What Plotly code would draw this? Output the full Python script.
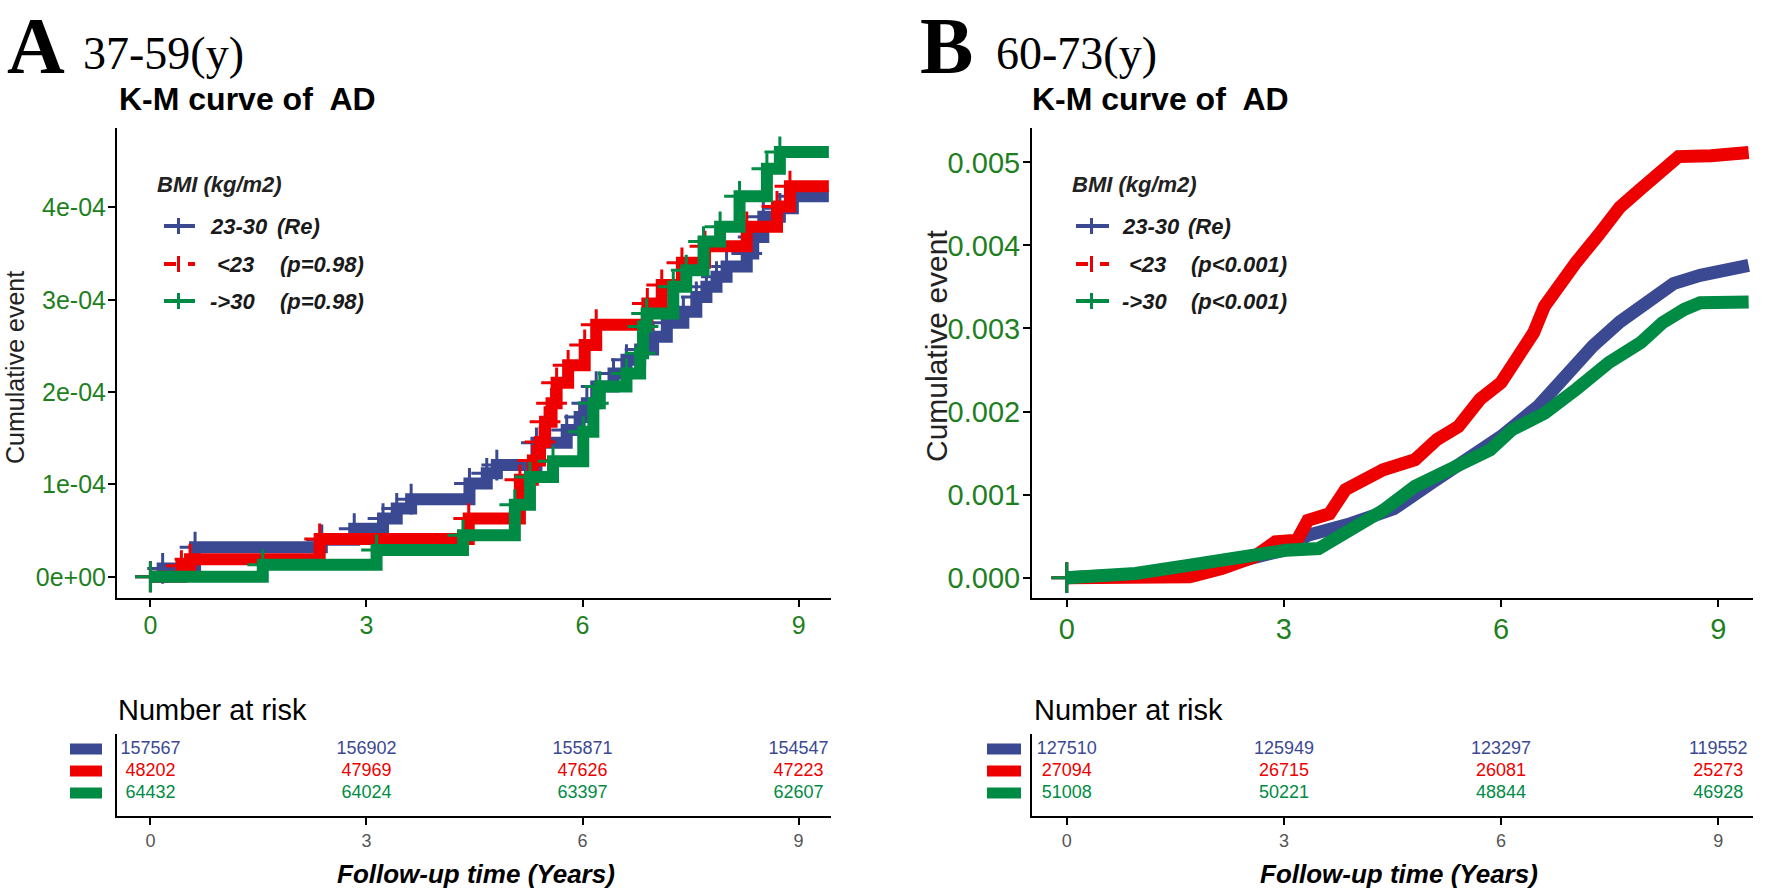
import plotly.graph_objects as go

W, H = 1770, 893

# ---------------- data ----------------
# Panel A (37-59 y): K-M cumulative event (values in units of 1e-4)
a_blue_t = [0, 0.17, 0.62, 2.38, 2.83, 3.23, 3.42, 3.62, 4.43, 4.67, 4.81, 5.36, 5.78, 5.96, 6.06,
            6.19, 6.43, 6.61, 6.80, 6.98, 7.17, 7.40, 7.58, 7.72, 7.86, 8.00, 8.28, 8.37, 8.51, 8.74, 8.92]
a_blue_v = [0, 0.09, 0.32, 0.40, 0.52, 0.63, 0.74, 0.84, 1.01, 1.12, 1.21, 1.45, 1.59, 1.73, 1.88,
            2.06, 2.20, 2.35, 2.46, 2.60, 2.75, 2.87, 3.03, 3.14, 3.25, 3.36, 3.50, 3.68, 3.90, 3.99, 4.12]
a_red_t = [0, 0.43, 0.55, 2.35, 4.42, 5.13, 5.31, 5.41, 5.48, 5.57, 5.64, 5.80, 6.03, 6.19, 6.90,
           7.10, 7.38, 7.70, 8.28, 8.70, 8.88]
a_red_v = [0, 0.12, 0.19, 0.41, 0.63, 1.05, 1.26, 1.46, 1.68, 1.88, 2.10, 2.29, 2.51, 2.73, 2.96,
           3.16, 3.40, 3.58, 3.79, 4.01, 4.23]
a_green_t = [0, 1.56, 3.14, 4.34, 5.06, 5.27, 5.59, 6.01, 6.15, 6.24, 6.61, 6.80, 6.84, 6.89, 7.26,
             7.44, 7.68, 7.91, 8.18, 8.56, 8.74]
a_green_v = [0, 0.13, 0.29, 0.45, 0.78, 1.08, 1.25, 1.57, 1.88, 2.06, 2.20, 2.42, 2.71, 2.85, 3.14,
             3.32, 3.63, 3.79, 4.12, 4.42, 4.60]
a_unit = 1e-4

# Panel B (60-73 y): K-M cumulative event (values in units of 1e-3)
b_blue_t = [0, 0.5, 1.0, 1.55, 2.0, 2.44, 3.0, 3.33, 3.92, 4.52, 5.04, 5.56, 6.0, 6.52, 6.9, 7.27,
            7.64, 8.01, 8.38, 8.75, 9.42]
b_blue_v = [0, 0.01, 0.04, 0.09, 0.15, 0.21, 0.33, 0.51, 0.65, 0.83, 1.14, 1.46, 1.70, 2.07, 2.43, 2.79,
            3.08, 3.29, 3.54, 3.64, 3.76]
b_red_t = [0, 0.7, 1.2, 1.7, 2.14, 2.59, 2.88, 3.18, 3.33, 3.63, 3.85, 4.15, 4.37, 4.81, 5.11, 5.41,
           5.71, 6.0, 6.23, 6.45, 6.6, 6.82, 7.04, 7.34, 7.64, 7.93, 8.23, 8.45, 8.9, 9.42]
b_red_v = [0, 0.0, 0.0, 0.01, 0.11, 0.25, 0.43, 0.45, 0.69, 0.77, 1.06, 1.18, 1.30, 1.42, 1.66, 1.82,
           2.15, 2.35, 2.67, 2.95, 3.27, 3.56, 3.80, 4.12, 4.46, 4.68, 4.89, 5.07, 5.08, 5.12]
b_green_t = [0, 0.5, 0.95, 1.7, 2.44, 3.03, 3.48, 3.92, 4.37, 4.81, 5.26, 5.85, 6.15, 6.6, 7.04, 7.49,
             7.93, 8.23, 8.53, 8.75, 9.42]
b_green_v = [0, 0.02, 0.05, 0.15, 0.27, 0.33, 0.35, 0.57, 0.81, 1.10, 1.30, 1.54, 1.78, 1.98, 2.27, 2.59,
             2.83, 3.07, 3.23, 3.31, 3.32]
b_unit = 1e-3

follow_up_end = 9.42

series_names = ["23-30", "<23", "->30"]
a_pvals = ["(Re)", "(p=0.98)", "(p=0.98)"]
b_pvals = ["(Re)", "(p<0.001)", "(p<0.001)"]

risk_times = [0, 3, 6, 9]
a_risk = {
    "23-30": [157567, 156902, 155871, 154547],
    "<23": [48202, 47969, 47626, 47223],
    "->30": [64432, 64024, 63397, 62607],
}
b_risk = {
    "23-30": [127510, 125949, 123297, 119552],
    "<23": [27094, 26715, 26081, 25273],
    "->30": [51008, 50221, 48844, 46928],
}

x_ticks = [0, 3, 6, 9]
a_yticks = [0, 1e-4, 2e-4, 3e-4, 4e-4]
a_yticktext = ["0e+00", "1e-04", "2e-04", "3e-04", "4e-04"]
b_yticks = [0, 0.001, 0.002, 0.003, 0.004, 0.005]
b_yticktext = ["0.000", "0.001", "0.002", "0.003", "0.004", "0.005"]

# ---------------- style ----------------
COLORS = {"23-30": "#3B4992", "<23": "#EE0000", "->30": "#008B45"}
TICK_GREEN = "#1f7f1f"
SANS = "Liberation Sans, Arial, sans-serif"
SERIF = "Liberation Serif, Times New Roman, serif"


def px(x):
    return x / W


def py(y):
    return 1 - y / H


fig = go.Figure()

a_series = [("23-30", a_blue_t, a_blue_v), ("<23", a_red_t, a_red_v), ("->30", a_green_t, a_green_v)]
b_series = [("23-30", b_blue_t, b_blue_v), ("<23", b_red_t, b_red_v), ("->30", b_green_t, b_green_v)]

for name, t, v in a_series:
    yv = [val * a_unit for val in v]
    fig.add_trace(go.Scatter(x=t + [follow_up_end], y=yv + [yv[-1]], mode="lines",
                             line=dict(shape="hv", width=12, color=COLORS[name]),
                             xaxis="x", yaxis="y", hoverinfo="skip"))
    fig.add_trace(go.Scatter(x=t, y=yv, mode="markers",
                             marker=dict(symbol="cross-thin", size=22,
                                         line=dict(width=3, color=COLORS[name])),
                             xaxis="x", yaxis="y", hoverinfo="skip"))

for name, t, v in b_series:
    yv = [val * b_unit for val in v]
    fig.add_trace(go.Scatter(x=t, y=yv, mode="lines",
                             line=dict(shape="linear", width=13, color=COLORS[name]),
                             xaxis="x3", yaxis="y3", hoverinfo="skip"))
    fig.add_trace(go.Scatter(x=t[:1], y=yv[:1], mode="markers",
                             marker=dict(symbol="cross-thin", size=22,
                                         line=dict(width=3, color=COLORS[name])),
                             xaxis="x3", yaxis="y3", hoverinfo="skip"))

rows = {"23-30": 3, "<23": 2, "->30": 1}
for name in series_names:
    fig.add_trace(go.Scatter(x=risk_times, y=[rows[name]] * len(risk_times), mode="text",
                             text=[str(n) for n in a_risk[name]],
                             textfont=dict(family=SANS, size=18, color=COLORS[name]),
                             xaxis="x2", yaxis="y2", cliponaxis=False, hoverinfo="skip"))
    fig.add_trace(go.Scatter(x=risk_times, y=[rows[name]] * len(risk_times), mode="text",
                             text=[str(n) for n in b_risk[name]],
                             textfont=dict(family=SANS, size=18, color=COLORS[name]),
                             xaxis="x4", yaxis="y4", cliponaxis=False, hoverinfo="skip"))

# ---------------- axes ----------------
main_y_dom = [py(598), py(128)]
risk_y_dom = [py(816), py(734)]
a_x_dom = [px(117), px(831)]
b_x_dom = [px(1032), px(1753)]
a_xrange = [-0.464, 9.45]
b_xrange = [-0.48, 9.48]
risk_yrange = [-0.045, 3.682]


def xax(dom, anchor, rng, fsize, color, standoff):
    return dict(domain=dom, anchor=anchor, range=rng, tickvals=x_ticks, ticks="outside",
                ticklen=7, tickwidth=2, tickcolor="black", showline=True, linewidth=2,
                linecolor="black", showgrid=False, zeroline=False, ticklabelstandoff=standoff,
                tickfont=dict(family=SANS, size=fsize, color=color))


def yax(anchor, rng, vals, txt, fsize):
    return dict(domain=main_y_dom, anchor=anchor, range=rng, tickvals=vals, ticktext=txt,
                ticks="outside", ticklen=7, tickwidth=2, tickcolor="black", showline=True,
                linewidth=2, linecolor="black", showgrid=False, zeroline=False,
                ticklabelstandoff=-3, tickfont=dict(family=SANS, size=fsize, color=TICK_GREEN))


def riskyax(anchor):
    return dict(domain=risk_y_dom, anchor=anchor, range=risk_yrange, showline=True, linewidth=2,
                linecolor="black", showticklabels=False, ticks="", showgrid=False, zeroline=False)


fig.update_layout(
    xaxis=xax(a_x_dom, "y", a_xrange, 25, TICK_GREEN, -3),
    yaxis=yax("x", [-0.23e-4, 4.86e-4], a_yticks, a_yticktext, 25),
    xaxis2=xax(a_x_dom, "y2", a_xrange, 18, "#555555", 0),
    yaxis2=riskyax("x2"),
    xaxis3=xax(b_x_dom, "y3", b_xrange, 29, TICK_GREEN, -3),
    yaxis3=yax("x3", [-0.245e-3, 5.414e-3], b_yticks, b_yticktext, 29),
    xaxis4=xax(b_x_dom, "y4", b_xrange, 18, "#555555", 0),
    yaxis4=riskyax("x4"),
)

# ---------------- annotations / shapes ----------------
ann = []
shapes = []


def text(x, y, s, size, family=SANS, color="black", anchor="left", angle=0):
    ann.append(dict(x=px(x), y=py(y), xref="paper", yref="paper", text=s, showarrow=False,
                    xanchor=anchor, yanchor="middle", textangle=angle,
                    font=dict(family=family, size=size, color=color)))


# Panel headers
text(5, 46, "<b>A</b>", 80, SERIF)
text(81, 53, "37-59(y)", 46, SERIF)
text(117, 99, "<b>K-M curve of\u00a0 AD</b>", 32)
text(918, 46, "<b>B</b>", 80, SERIF)
text(994, 53, "60-73(y)", 46, SERIF)
text(1030, 99, "<b>K-M curve of\u00a0 AD</b>", 32)

# y titles
text(15, 368, "Cumulative event", 25, color="#222222", anchor="center", angle=-90)
text(936, 346, "Cumulative event", 30, color="#222222", anchor="center", angle=-90)


def legend(hx, glyph_x0, glyph_x1, name_x, re_x, p_x, pvals):
    text(hx, 185, "<b><i>BMI (kg/m2)</i></b>", 22, color="#222222")
    row_y = [226, 264, 301]
    name_offsets = [0, 7, 0]
    for i, name in enumerate(series_names):
        yy = row_y[i]
        c = COLORS[name]
        cx = (glyph_x0 + glyph_x1) / 2 - 1
        shapes.append(dict(type="line", xref="paper", yref="paper", x0=px(glyph_x0), x1=px(glyph_x1),
                           y0=py(yy), y1=py(yy), line=dict(color=c, width=4,
                                                           dash="dash" if name == "<23" else "solid")))
        shapes.append(dict(type="line", xref="paper", yref="paper", x0=px(cx), x1=px(cx),
                           y0=py(yy - 8), y1=py(yy + 8), line=dict(color=c, width=3)))
        text(name_x + name_offsets[i], yy,
             "<b><i>%s</i></b>" % name.replace("<", "&lt;").replace(">", "&gt;"), 22, color="#1a1a1a")
        text(re_x if i == 0 else p_x, yy, "<b><i>%s</i></b>" % pvals[i].replace("<", "&lt;"), 22,
             color="#1a1a1a")


legend(155, 164, 195, 208, 275, 278, a_pvals)
legend(1070, 1076, 1109, 1120, 1186, 1189, b_pvals)

# risk table headers and x titles
text(116, 710, "Number at risk", 29)
text(1032, 710, "Number at risk", 29)
text(476, 874, "<b><i>Follow-up time (Years)</i></b>", 26, anchor="center")
text(1399, 874, "<b><i>Follow-up time (Years)</i></b>", 26, anchor="center")

# risk-table colour keys
for name in series_names:
    r = rows[name]
    for (x0, x1, yref) in [(70, 102, "y2"), (987, 1021, "y4")]:
        shapes.append(dict(type="rect", xref="paper", yref=yref, x0=px(x0), x1=px(x1),
                           y0=r - 0.25, y1=r + 0.25, fillcolor=COLORS[name], line=dict(width=0)))

fig.update_layout(annotations=ann, shapes=shapes, width=W, height=H, showlegend=False,
                  margin=dict(l=0, r=0, t=0, b=0), paper_bgcolor="white", plot_bgcolor="white")

fig.write_html("out.html", config={"displayModeBar": False},
               post_script="document.body.style.margin='0px';document.body.style.overflow='hidden';")
